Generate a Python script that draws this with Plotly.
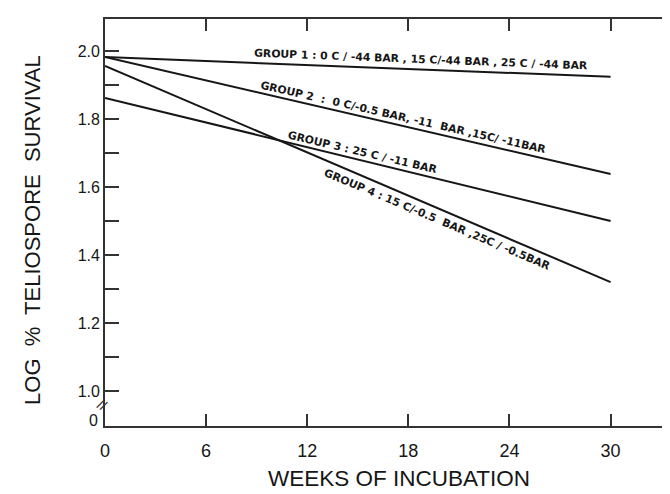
import plotly.graph_objects as go

# ---- data ----
weeks = [0, 30]
group1 = [1.982, 1.924]
group2 = [1.982, 1.638]
group3 = [1.862, 1.500]
group4 = [1.956, 1.320]

group_labels = [
    "GROUP 1 : 0 C / -44 BAR , 15 C/-44 BAR , 25 C / -44 BAR",
    "GROUP 2  :  0 C/-0.5 BAR, -11  BAR ,15C/ -11BAR",
    "GROUP 3 : 25 C / -11 BAR",
    "GROUP 4 : 15 C/-0.5  BAR ,25C / -0.5BAR",
]
# label anchor (week, log value) and angle
label_x = [18.75, 17.7, 15.3, 19.7]
label_y = [1.976, 1.803, 1.700, 1.503]
label_angle = [2.2, 12.8, 13.2, 22.8]

x_ticks = [0, 6, 12, 18, 24, 30]
x_top_ticks = [6, 12, 18, 24, 30]
y_ticks = [1.0, 1.1, 1.2, 1.3, 1.4, 1.5, 1.6, 1.7, 1.8, 1.9, 2.0]
y_ticktext = ["1.0", "", "1.2", "", "1.4", "", "1.6", "", "1.8", "", "2.0"]

x_range = [0, 34]
y_range = [0.897, 2.094]

FONT = "Liberation Sans, Arial, sans-serif"
LFONT = "DejaVu Sans, sans-serif"
INK = "#161616"
AX = "#333333"

fig = go.Figure()
for ys in (group1, group2, group3, group4):
    fig.add_trace(go.Scatter(x=weeks, y=ys, mode="lines",
                             line=dict(color=INK, width=2),
                             hoverinfo="skip", showlegend=False))
# helper trace so the mirrored top/right axes exist
fig.add_trace(go.Scatter(x=weeks, y=group1, mode="none", xaxis="x2", yaxis="y2",
                         hoverinfo="skip", showlegend=False))

for txt, lx, ly, ang in zip(group_labels, label_x, label_y, label_angle):
    fig.add_annotation(x=lx, y=ly, text="<b>" + txt + "</b>", showarrow=False,
                       xanchor="center", yanchor="middle",
                       textangle=ang, font=dict(family=LFONT, size=10.8, color=INK))

# "0" label and axis break
fig.add_annotation(x=0, xref="paper", y=0.912, yref="y", text="0", showarrow=False,
                   xanchor="right", yanchor="middle", xshift=-5,
                   font=dict(family=FONT, size=16, color=INK))
fig.add_annotation(x=0, xref="paper", y=0.958, yref="y", text="//", showarrow=False,
                   xanchor="center", yanchor="middle", textangle=30, xshift=-3,
                   font=dict(family=FONT, size=14, color=AX))

# axis titles
fig.add_annotation(x=0.513, xref="paper", y=-0.13, yref="paper", text="WEEKS OF INCUBATION",
                   xanchor="center", yanchor="middle",
                   showarrow=False, font=dict(family=FONT, size=22.5, color=INK))
fig.add_annotation(x=-0.1257, xref="paper", y=0.4816, yref="paper",
                   text="LOG&nbsp; %&nbsp; TELIOSPORE&nbsp; SURVIVAL", textangle=-90,
                   xanchor="center", yanchor="middle",
                   showarrow=False, font=dict(family=FONT, size=22, color=INK))

fig.update_layout(
    width=670, height=494,
    margin=dict(l=97, r=0, t=11, b=76),
    paper_bgcolor="white", plot_bgcolor="white",
    xaxis=dict(range=x_range, tickvals=x_ticks, ticks="inside", ticklen=12,
               tickwidth=1.5, tickcolor=AX, showline=True, linecolor=AX, linewidth=1.8,
               showgrid=False, zeroline=False, ticklabelstandoff=7,
               tickfont=dict(family=FONT, size=18, color=INK)),
    yaxis=dict(range=y_range, tickvals=y_ticks, ticktext=y_ticktext, ticks="inside",
               ticklen=14, tickwidth=1.5, tickcolor=AX, showline=True, linecolor=AX,
               linewidth=1.8, showgrid=False, zeroline=False,
               tickfont=dict(family=FONT, size=16, color=INK)),
    xaxis2=dict(range=x_range, overlaying="x", side="top", tickvals=x_top_ticks,
                ticks="inside", ticklen=12, tickwidth=1.5, tickcolor=AX,
                showticklabels=False, showline=True, linecolor=AX, linewidth=1.8,
                showgrid=False, zeroline=False),
    yaxis2=dict(range=y_range, overlaying="y", side="right", tickvals=y_ticks,
                ticks="inside", ticklen=10, tickwidth=1.5, tickcolor=AX,
                showticklabels=False, showline=True, linecolor=AX, linewidth=1.8,
                showgrid=False, zeroline=False),
)

fig.write_html("out.html")
